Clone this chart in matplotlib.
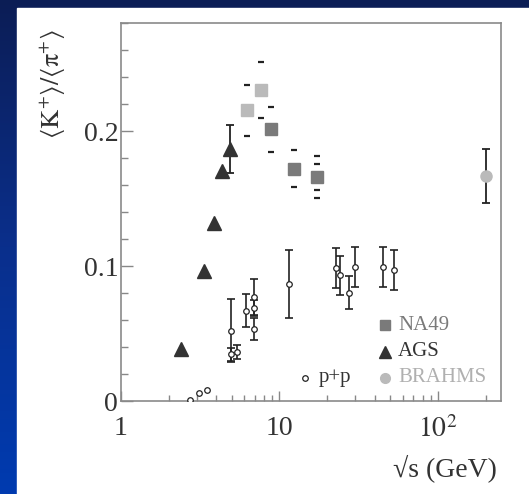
import numpy as np
import matplotlib
matplotlib.use('Agg')
import matplotlib.pyplot as plt
from matplotlib.patches import Rectangle
from matplotlib.colors import LinearSegmentedColormap
from matplotlib.ticker import MultipleLocator, LogLocator, NullFormatter

plt.rcParams['font.family'] = ['Liberation Serif', 'DejaVu Serif']
plt.rcParams['mathtext.fontset'] = 'stix'

# NA49 (first two light grey, rest dark grey), error shown as dashes only
na49_light_x = [6.27, 7.62]
na49_light_y = [0.2157, 0.2308]
na49_light_err = [0.0189, 0.0207]
na49_dark_x = [8.8, 12.3, 17.2]
na49_dark_y = [0.2016, 0.1723, 0.1661]
na49_dark_err = [0.0167, 0.0140, 0.0155]
na49_inner_x = [17.2]
na49_inner_y = [0.1661]
na49_inner_err = [0.0095]

# AGS
ags_x = [2.38, 3.34, 3.85, 4.31, 4.89]
ags_y = [0.0385, 0.0965, 0.1323, 0.1704, 0.1867]
ags_err = [0.0, 0.0, 0.0, 0.0, 0.018]

# BRAHMS
brahms_x = [200.0]
brahms_y = [0.1669]
brahms_err = [0.0198]

# p+p
pp_x = [2.72, 3.09, 3.50, 4.95, 4.95, 5.39, 6.15, 6.88, 6.88, 6.88, 11.5,
        22.9, 24.0, 27.6, 29.9, 44.8, 52.6]
pp_y = [0.0007, 0.0060, 0.0079, 0.0521, 0.0345, 0.0362, 0.0669, 0.0772,
        0.0687, 0.0531, 0.0869, 0.0983, 0.0931, 0.0803, 0.0990, 0.0995, 0.0968]
pp_err = [0, 0, 0, 0.0232, 0.005, 0.005, 0.0122, 0.0134, 0.006, 0.0082,
          0.0252, 0.0148, 0.0143, 0.012, 0.0148, 0.0150, 0.0148]

light = '#bababa'
dark = '#7a7a7a'
tri = '#333333'
ink = '#222222'

W, H = 529, 494
fig = plt.figure(figsize=(W / 100, H / 100), dpi=100)

# blue gradient background with white panel
bg = fig.add_axes([0, 0, 1, 1])
cmap = LinearSegmentedColormap.from_list('bg', ['#0c1d55', '#0a2f8c', '#003bb0'])
grad = np.linspace(0, 1, 256).reshape(-1, 1)
bg.imshow(grad, aspect='auto', cmap=cmap, extent=[0, W, H, 0])
bg.add_patch(Rectangle((17, 8.4), W, H, color='white'))
bg.set_xlim(0, W)
bg.set_ylim(H, 0)
bg.axis('off')

ax = fig.add_axes([121 / W, 93 / H, 380 / W, 377.7 / H])
ax.set_facecolor('white')
ax.set_xscale('log')

# NA49 dashes
def dashes(x, y, e):
    y = np.array(y)
    e = np.array(e)
    ax.plot(x, y + e, ls='none', marker='_', ms=5, mew=1.6, color=ink, zorder=3)
    ax.plot(x, y - e, ls='none', marker='_', ms=5, mew=1.6, color=ink, zorder=3)

dashes(na49_light_x, na49_light_y, na49_light_err)
dashes(na49_dark_x, na49_dark_y, na49_dark_err)
dashes(na49_inner_x, na49_inner_y, na49_inner_err)
ax.plot(na49_light_x, na49_light_y, ls='none', marker='s', ms=9, color=light, zorder=4)
ax.plot(na49_dark_x, na49_dark_y, ls='none', marker='s', ms=9, color=dark, zorder=4)

# AGS
ags_e = np.array(ags_err)
m = ags_e > 0
ax.errorbar(np.array(ags_x)[m], np.array(ags_y)[m], yerr=ags_e[m], fmt='none',
            ecolor=ink, elinewidth=1.3, capsize=3, capthick=1.3, zorder=3)
ax.plot(ags_x, ags_y, ls='none', marker='^', ms=10, color=tri, zorder=4)

# BRAHMS
ax.errorbar(brahms_x, brahms_y, yerr=brahms_err, fmt='none',
            ecolor=ink, elinewidth=1.3, capsize=3, capthick=1.3, zorder=3)
ax.plot(brahms_x, brahms_y, ls='none', marker='o', ms=8, color=light, zorder=4)

# p+p
pe = np.array(pp_err)
m = pe > 0
ax.errorbar(np.array(pp_x)[m], np.array(pp_y)[m], yerr=pe[m], fmt='none',
            ecolor=ink, elinewidth=1.2, capsize=3, capthick=1.2, zorder=3)
ax.plot(pp_x, pp_y, ls='none', marker='o', ms=4, mfc='white', mec=ink, mew=0.9, zorder=4)

ax.set_xlim(1, 250)
ax.set_ylim(0, 0.28)
ax.set_xticks([1, 10, 100])
ax.set_xticklabels(['1', '10', r'$10^{2}$'])
ax.xaxis.set_minor_locator(LogLocator(base=10, subs=np.arange(2, 10)))
ax.xaxis.set_minor_formatter(NullFormatter())
ax.set_yticks([0, 0.1, 0.2])
ax.set_yticklabels(['0', '0.1', '0.2'])
ax.yaxis.set_minor_locator(MultipleLocator(0.02))

ax.tick_params(which='both', direction='in', top=False, right=False,
               color='#888888', labelcolor='#333333', labelsize=20, width=1)
ax.tick_params(axis='x', which='major', length=7.5, pad=11)
ax.tick_params(axis='x', which='minor', length=4.5)
ax.tick_params(axis='y', which='major', length=8.5, pad=2)
ax.tick_params(axis='y', which='minor', length=5)
for s in ax.spines.values():
    s.set_color('#8a8a8a')
    s.set_linewidth(1.2)

ax.set_xlabel('√s (GeV)', fontsize=20, color='#333333', loc='right')
ax.xaxis.set_label_coords(0.99, -0.14)
ax.set_ylabel(r'$\langle\mathrm{K}^{+}\rangle/\langle\mathrm{π}^{+}\rangle$', fontsize=19,
              color='#333333', loc='top')
ax.yaxis.set_label_coords(-0.14, 0.985)

# legend
lk = dict(transform=ax.transAxes, ls='none', clip_on=False, zorder=5)
ax.plot([0.695], [0.201], marker='s', ms=7.5, color=dark, **lk)
ax.plot([0.695], [0.1305], marker='^', ms=8, color=tri, **lk)
ax.plot([0.695], [0.0617], marker='o', ms=7, color=light, **lk)
ax.plot([0.484], [0.0617], marker='o', ms=4, mfc='white', mec=ink, mew=0.9, **lk)
tk = dict(transform=ax.transAxes, fontsize=15, va='center', ha='left')
ax.text(0.729, 0.201, 'NA49', color='#7a7a7a', **tk)
ax.text(0.729, 0.1305, 'AGS', color='#333333', **tk)
ax.text(0.729, 0.0617, 'BRAHMS', color='#b0b0b0', **tk)
ax.text(0.519, 0.0617, 'p+p', color='#333333', **tk)

fig.savefig('out.png', dpi=100)
